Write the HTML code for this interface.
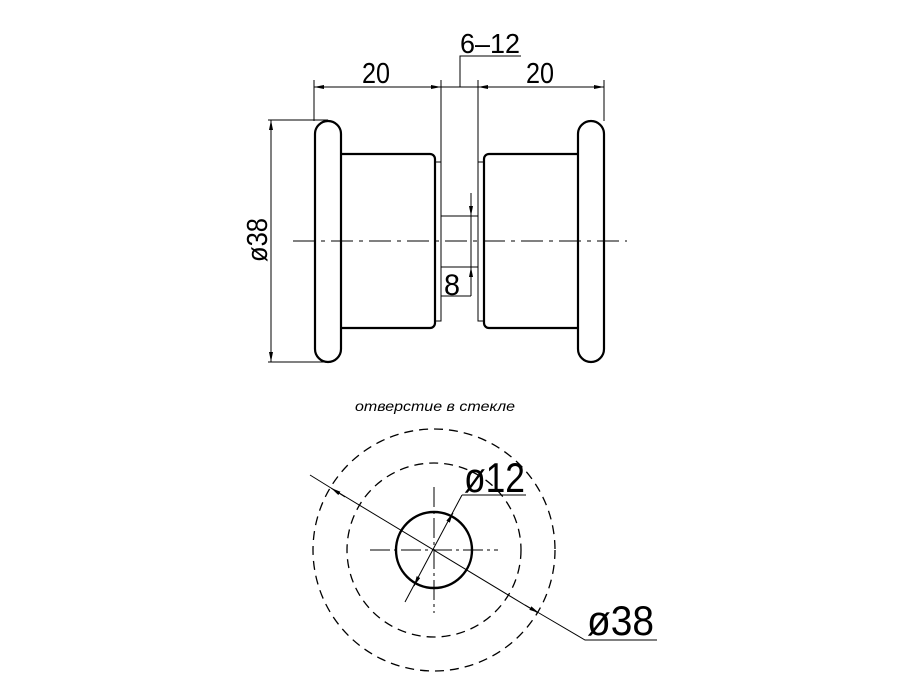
<!DOCTYPE html>
<html><head><meta charset="utf-8"><style>
html,body{margin:0;padding:0;background:#fff;width:900px;height:700px;overflow:hidden}
text{font-family:"Liberation Sans","DejaVu Sans",sans-serif;fill:#000}
</style></head><body>
<svg width="900" height="700" viewBox="0 0 900 700" xmlns="http://www.w3.org/2000/svg">
<defs>
<marker id="a" viewBox="0 0 10 4" refX="10" refY="2" markerWidth="10" markerHeight="4" orient="auto-start-reverse" markerUnits="userSpaceOnUse"><path d="M0,0L10,2L0,4z" fill="#000"/></marker>
</defs>
<g fill="none" stroke="#000">
<g stroke-width="2.2">
<rect x="315" y="121" width="26" height="241" rx="13"/>
<path d="M341,154H430a5,5 0 0 1 5,5V323a5,5 0 0 1 -5,5H341"/>
<rect x="578" y="121" width="26" height="241" rx="13"/>
<path d="M578,154H489a5,5 0 0 0 -5,5V323a5,5 0 0 0 5,5H578"/>
</g>
<g stroke-width="1">
<rect x="435" y="162" width="6" height="159"/>
<rect x="478" y="162" width="6" height="159"/>
<line x1="441" y1="216" x2="478" y2="216"/>
<line x1="441" y1="267" x2="478" y2="267"/>
<line x1="293" y1="241" x2="627" y2="241" stroke-dasharray="22,6,4,6"/>
<line x1="314" y1="80" x2="314" y2="121"/>
<line x1="441" y1="80" x2="441" y2="162"/>
<line x1="478" y1="80" x2="478" y2="162"/>
<line x1="604" y1="80" x2="604" y2="121"/>
<line x1="314" y1="87" x2="441" y2="87" marker-start="url(#a)" marker-end="url(#a)"/>
<line x1="478" y1="87" x2="604" y2="87" marker-start="url(#a)" marker-end="url(#a)"/>
<line x1="441" y1="87" x2="478" y2="87"/>
<polyline points="460,87 460,56 521,56"/>
<line x1="268" y1="120" x2="328" y2="120"/>
<line x1="268" y1="362" x2="328" y2="362"/>
<line x1="271" y1="120" x2="271" y2="362" marker-start="url(#a)" marker-end="url(#a)"/>
<line x1="471" y1="193" x2="471" y2="216" marker-end="url(#a)"/>
<line x1="471" y1="296" x2="471" y2="267" marker-end="url(#a)"/>
<line x1="471" y1="216" x2="471" y2="296"/>
<line x1="441" y1="296" x2="471" y2="296"/>
</g>
<g stroke-width="1.3" stroke-dasharray="9,6">
<circle cx="434" cy="550" r="121"/>
<circle cx="434" cy="550" r="87"/>
</g>
<circle cx="434" cy="550" r="38" stroke-width="2.4"/>
<g stroke-width="1">
<line x1="370" y1="550" x2="498" y2="550" stroke-dasharray="20,4,3,4"/>
<line x1="434" y1="487" x2="434" y2="613" stroke-dasharray="20,4,3,4"/>
<line x1="310" y1="475" x2="331" y2="488" />
<line x1="331" y1="488" x2="538" y2="613"/>
<line x1="345" y1="497" x2="331" y2="488" marker-end="url(#a)"/>
<line x1="525" y1="605" x2="539" y2="613" marker-end="url(#a)"/>
<polyline points="539,613 585,640 657,640"/>
<line x1="405" y1="602" x2="462" y2="495"/>
<line x1="418" y1="578" x2="414" y2="586" marker-end="url(#a)"/>
<line x1="449" y1="520" x2="453" y2="513" marker-end="url(#a)"/>
<line x1="462" y1="495" x2="526" y2="495"/>
</g>
</g>
<text x="362" y="83" font-size="29" textLength="28" lengthAdjust="spacingAndGlyphs">20</text>
<text x="526" y="83" font-size="29" textLength="28" lengthAdjust="spacingAndGlyphs">20</text>
<text x="460" y="53" font-size="28" textLength="60" lengthAdjust="spacingAndGlyphs">6–12</text>
<text x="444" y="295" font-size="30" textLength="16" lengthAdjust="spacingAndGlyphs">8</text>
<text transform="translate(267,262) rotate(-90)" font-size="29" textLength="44" lengthAdjust="spacingAndGlyphs">ø38</text>
<text x="355" y="411" font-size="14" font-style="italic" textLength="160" lengthAdjust="spacingAndGlyphs">отверстие в стекле</text>
<text x="464" y="492" font-size="42" textLength="61" lengthAdjust="spacingAndGlyphs">ø12</text>
<text x="587" y="635" font-size="42" textLength="67" lengthAdjust="spacingAndGlyphs">ø38</text>
</svg>
</body></html>
